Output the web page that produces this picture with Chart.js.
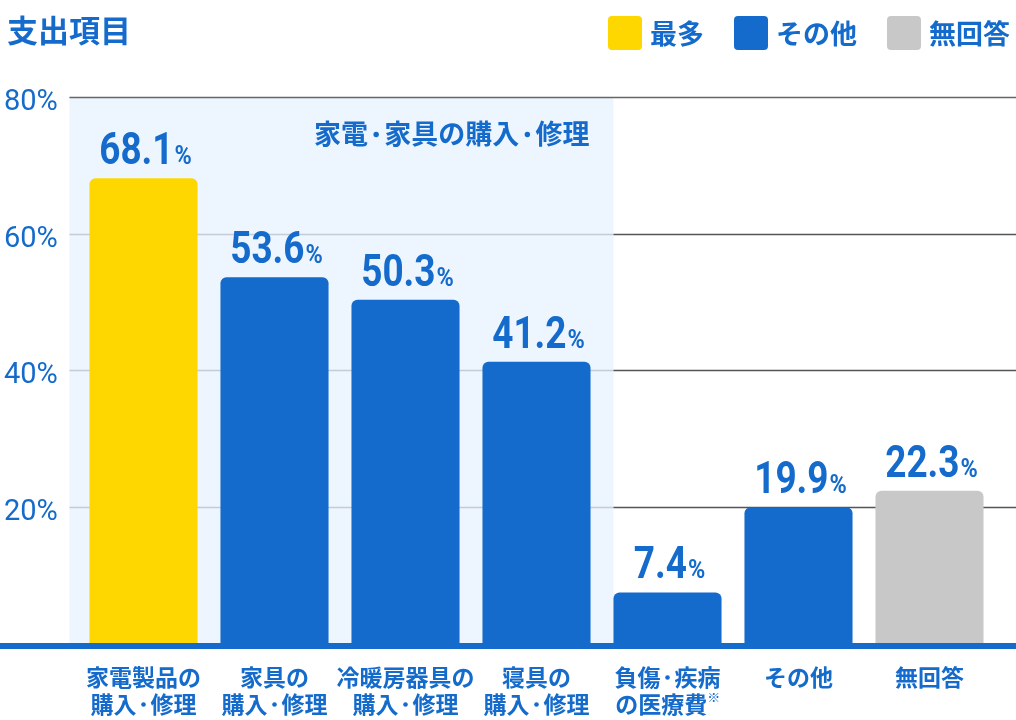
<!DOCTYPE html>
<html lang="ja">
<head>
<meta charset="utf-8">
<script src="https://cdn.jsdelivr.net/npm/chart.js@4"></script>
<style>
  html, body { margin: 0; padding: 0; background: #fff; }
  #wrap { position: relative; width: 1016px; height: 720px; }
  #title {
    position: absolute; left: 7px; top: 6px;
    font: bold 31px "Noto Sans CJK JP", sans-serif; color: #146bcb;
  }
  #legend { position: absolute; top: 13px; right: 6px; display: flex; }
  .item { display: flex; align-items: center; margin-left: 30px;
    font: bold 27px "Noto Sans CJK JP", sans-serif; color: #146bcb; }
  .box { width: 34px; height: 34px; border-radius: 4px; margin-right: 8px; }
  canvas { position: absolute; left: 0; top: 0; }
</style>
</head>
<body>
<div id="wrap">
  <canvas id="chart" width="1016" height="720"></canvas>
  <div id="title">支出項目</div>
  <div id="legend"></div>
</div>
<script>
const categories = [
  ["家電製品の", "購入・修理"],
  ["家具の", "購入・修理"],
  ["冷暖房器具の", "購入・修理"],
  ["寝具の", "購入・修理"],
  ["負傷・疾病", "の医療費※"],
  ["その他"],
  ["無回答"]
];
const values = [68.1, 53.6, 50.3, 41.2, 7.4, 19.9, 22.3];
const kinds = ["max", "other", "other", "other", "other", "other", "none"];
const legendLabels = ["最多", "その他", "無回答"];
const yTicks = [20, 40, 60, 80];
const groupLabel = "家電・家具の購入・修理";

const BLUE = "#146bcb";
const colors = { max: "#ffd700", other: BLUE, none: "#c8c8c8" };

// legend
const legend = document.getElementById("legend");
["max", "other", "none"].forEach((k, i) => {
  const el = document.createElement("div");
  el.className = "item";
  el.innerHTML = '<div class="box" style="background:' + colors[k] + '"></div>' + legendLabels[i];
  legend.appendChild(el);
});

const JP = '"Noto Sans CJK JP", sans-serif';

// japanese text with a narrow middle dot and a small ※
function jpWidth(ctx, text, size) {
  let w = 0;
  for (const ch of text) {
    if (ch === "・") w += size * 0.6;
    else if (ch === "※") w += size * 0.55;
    else { ctx.font = "bold " + size + "px " + JP; w += ctx.measureText(ch).width; }
  }
  return w;
}
function jpText(ctx, text, x, y, size, align) {
  const w = jpWidth(ctx, text, size);
  let cx = align === "right" ? x - w : align === "center" ? x - w / 2 : x;
  ctx.textAlign = "left";
  ctx.textBaseline = "middle";
  for (const ch of text) {
    if (ch === "・") {
      ctx.beginPath();
      ctx.arc(cx + size * 0.3, y + size * 0.02, size * 0.1, 0, Math.PI * 2);
      ctx.fill();
      cx += size * 0.6;
    } else if (ch === "※") {
      ctx.font = "bold " + Math.round(size * 0.55) + "px " + JP;
      ctx.fillText(ch, cx, y - size * 0.3);
      cx += size * 0.55;
    } else {
      ctx.font = "bold " + size + "px " + JP;
      ctx.fillText(ch, cx, y);
      cx += ctx.measureText(ch).width;
    }
  }
}

const backdrop = {
  id: "backdrop",
  beforeDatasetsDraw(chart) {
    const { ctx, scales } = chart;
    const bars = chart.getDatasetMeta(0).data;
    const left = bars[0].x - bars[0].width / 2 - 20;
    const right = bars[4].x - bars[4].width / 2;
    const top = scales.y.getPixelForValue(80);
    const bottom = scales.y.getPixelForValue(0);
    ctx.save();
    ctx.fillStyle = "#edf5fe";
    ctx.fillRect(left, top, right - left, bottom - top);
    ctx.lineWidth = 1.5;
    yTicks.forEach(v => {
      const y = Math.round(scales.y.getPixelForValue(v)) + 0.5;
      if (v === 80) {
        ctx.strokeStyle = "#666";
        ctx.beginPath(); ctx.moveTo(left, y); ctx.lineTo(chart.width, y); ctx.stroke();
      } else {
        ctx.strokeStyle = "#c6ccd6";
        ctx.beginPath(); ctx.moveTo(left, y); ctx.lineTo(right, y); ctx.stroke();
        ctx.strokeStyle = "#555";
        ctx.beginPath(); ctx.moveTo(right, y); ctx.lineTo(chart.width, y); ctx.stroke();
      }
    });
    // y tick labels
    ctx.fillStyle = BLUE;
    ctx.font = "29px Roboto";
    ctx.textAlign = "left";
    ctx.textBaseline = "alphabetic";
    yTicks.forEach(v => {
      ctx.fillText(v + "%", 4, scales.y.getPixelForValue(v) + 13);
    });
    jpText(ctx, groupLabel, right - 24, top + 37, 27, "right");
    ctx.restore();
  },
  afterDatasetsDraw(chart) {
    const { ctx, scales } = chart;
    const bars = chart.getDatasetMeta(0).data;
    const y0 = scales.y.getPixelForValue(0);
    ctx.save();
    // base line
    ctx.fillStyle = BLUE;
    ctx.fillRect(0, y0, chart.width, 6);
    // value labels
    ctx.textBaseline = "alphabetic";
    ctx.textAlign = "left";
    const sx = 0.84;
    bars.forEach((bar, i) => {
      const num = values[i].toFixed(1);
      ctx.font = "bold 44px Roboto";
      const w1 = ctx.measureText(num).width * sx;
      ctx.font = "bold 26px Roboto";
      const w2 = ctx.measureText("%").width * 0.9;
      const x = bar.x - (w1 + w2 + 1) / 2 + 2;
      const y = bar.y - 14;
      ctx.save();
      ctx.translate(x, y);
      ctx.scale(sx, 1);
      ctx.font = "bold 44px Roboto";
      ctx.fillText(num, 0, 0);
      ctx.restore();
      ctx.save();
      ctx.translate(x + w1 + 1, y);
      ctx.scale(0.9, 1);
      ctx.font = "bold 26px Roboto";
      ctx.fillText("%", 0, 0);
      ctx.restore();
    });
    // category labels
    bars.forEach((bar, i) => {
      categories[i].forEach((line, j) => {
        jpText(ctx, line, bar.x, y0 + 34 + j * 27, 23, "center");
      });
    });
    ctx.restore();
  }
};

new Chart(document.getElementById("chart"), {
  type: "bar",
  data: {
    labels: categories,
    datasets: [{
      data: values,
      backgroundColor: kinds.map(k => colors[k]),
      borderRadius: { topLeft: 6, topRight: 6 },
      borderSkipped: "bottom",
      barPercentage: 0.825,
      categoryPercentage: 1
    }]
  },
  options: {
    responsive: false,
    animation: false,
    layout: { padding: { top: 97, right: 21, bottom: 0, left: 0 } },
    plugins: { legend: { display: false }, tooltip: { enabled: false } },
    scales: {
      x: {
        grid: { display: false },
        border: { display: false },
        ticks: { display: false },
        afterFit(scale) { scale.height = 77; }
      },
      y: {
        min: 0, max: 80,
        grid: { display: false },
        border: { display: false },
        ticks: { display: false, stepSize: 20 },
        afterFit(scale) { scale.width = 78; }
      }
    }
  },
  plugins: [backdrop]
});
</script>
</body>
</html>
